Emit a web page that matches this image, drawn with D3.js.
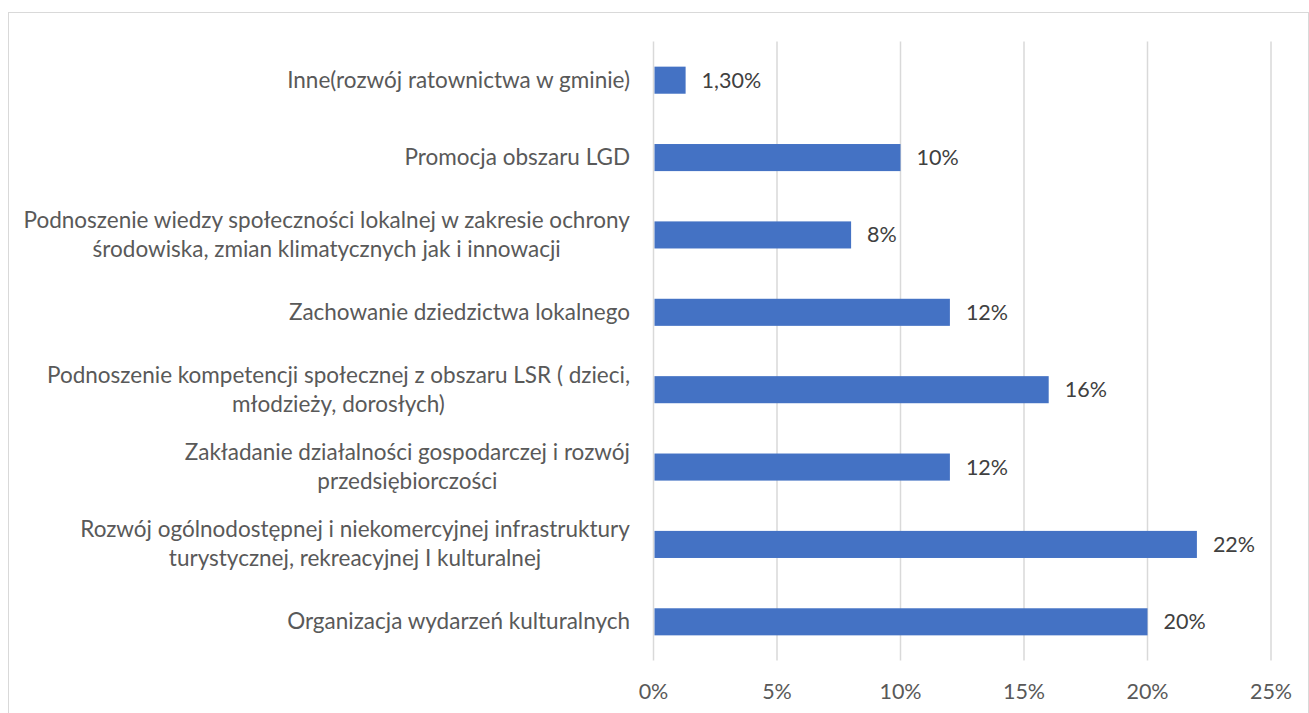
<!DOCTYPE html>
<html>
<head>
<meta charset="utf-8">
<script src="https://cdn.jsdelivr.net/npm/d3@7"></script>
<style>
  body { margin: 0; background: #fff; }
  svg { display: block; }
  text { font-family: Lato, "Open Sans", sans-serif; }
</style>
</head>
<body>
<svg id="chart"></svg>
<script>
// categories top -> bottom, "\n" marks line break as in the original
var categories = [
  "Inne(rozwój ratownictwa w gminie)",
  "Promocja obszaru LGD",
  "Podnoszenie wiedzy społeczności lokalnej w zakresie ochrony\nśrodowiska, zmian klimatycznych jak i innowacji",
  "Zachowanie dziedzictwa lokalnego",
  "Podnoszenie kompetencji społecznej z obszaru LSR ( dzieci,\nmłodzieży, dorosłych)",
  "Zakładanie działalności gospodarczej i rozwój\nprzedsiębiorczości",
  "Rozwój ogólnodostępnej i niekomercyjnej infrastruktury\nturystycznej, rekreacyjnej I kulturalnej",
  "Organizacja wydarzeń kulturalnych"
];
var values = [1.3, 10, 8, 12, 16, 12, 22, 20];
var valueLabels = ["1,30%", "10%", "8%", "12%", "16%", "12%", "22%", "20%"];
var ticks = [0, 5, 10, 15, 20, 25];

const width = 1309, height = 713;
const svg = d3.select("#chart").attr("width", width).attr("height", height);

// outer chart border
svg.append("rect")
  .attr("x", 8.5).attr("y", 12.5)
  .attr("width", 1300).attr("height", 720)
  .attr("fill", "none").attr("stroke", "#d9d9d9");

const x = d3.scaleLinear().domain([0, 25]).range([653.5, 1271]);
const y = d3.scaleBand().domain(d3.range(categories.length)).range([41.5, 660.5]).paddingInner(0.65).paddingOuter(0.325);

// gridlines
svg.append("g").selectAll("line")
  .data(ticks)
  .enter().append("line")
  .attr("x1", d => x(d)).attr("x2", d => x(d))
  .attr("y1", 41.5).attr("y2", 660.5)
  .attr("stroke", "#d9d9d9").attr("stroke-width", 1.5);

// x axis tick labels
svg.append("g").selectAll("text")
  .data(ticks)
  .enter().append("text")
  .attr("x", d => x(d)).attr("y", 699)
  .attr("text-anchor", "middle")
  .attr("font-size", 21.5)
  .attr("fill", "#595959")
  .text(d => d + "%");

// bars
svg.append("g").selectAll("rect")
  .data(values)
  .enter().append("rect")
  .attr("x", x(0) + 1)
  .attr("y", (d, i) => y(i))
  .attr("width", d => x(d) - x(0) - 1)
  .attr("height", y.bandwidth())
  .attr("fill", "#4472c4");

// value labels
svg.append("g").selectAll("text")
  .data(values)
  .enter().append("text")
  .attr("x", d => x(d) + 16)
  .attr("y", (d, i) => y(i) + y.bandwidth() / 2 + 7.5)
  .attr("font-size", 21.5)
  .attr("fill", "#404040")
  .text((d, i) => valueLabels[i]);

// category labels
const lineH = 29;
const cat = svg.append("g").selectAll("text")
  .data(categories)
  .enter().append("text")
  .attr("text-anchor", "middle")
  .attr("font-size", 22.5)
  .attr("fill", "#595959");

cat.each(function(d, i) {
  const lines = d.split("\n");
  const cy = y(i) + y.bandwidth() / 2;
  const t = d3.select(this);
  lines.forEach((l, k) => {
    t.append("tspan")
      .attr("x", 0)
      .attr("y", cy + 7.5 + (k - (lines.length - 1) / 2) * lineH)
      .text(l);
  });
});

// right-align the block of each label at 630, lines centred within it
cat.each(function() {
  const w = this.getBBox().width;
  d3.select(this).selectAll("tspan").attr("x", 630 - w / 2);
});
</script>
</body>
</html>
